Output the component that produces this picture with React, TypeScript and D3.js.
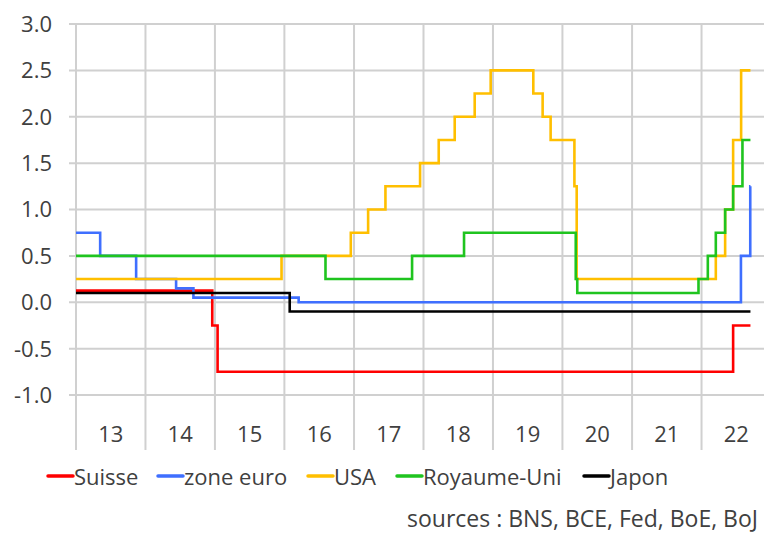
import React from "react";
import * as d3 from "d3";

const W = 764;
const H = 533;

// Step series: [date of change, rate]
const endDate = "2022-09-15";
const suisse: [string, number][] = [
  ["2013-01-01", 0.125], ["2014-12-18", -0.25], ["2015-01-15", -0.75], ["2022-06-16", -0.25],
];
const zoneEuro: [string, number][] = [
  ["2013-01-01", 0.75], ["2013-05-08", 0.5], ["2013-11-13", 0.25], ["2014-06-11", 0.15],
  ["2014-09-10", 0.05], ["2016-03-16", 0.0], ["2022-07-27", 0.5], ["2022-09-14", 1.25],
];
const usa: [string, number][] = [
  ["2013-01-01", 0.25], ["2015-12-17", 0.5], ["2016-12-15", 0.75], ["2017-03-16", 1.0],
  ["2017-06-15", 1.25], ["2017-12-14", 1.5], ["2018-03-22", 1.75], ["2018-06-14", 2.0],
  ["2018-09-27", 2.25], ["2018-12-20", 2.5], ["2019-08-01", 2.25], ["2019-09-19", 2.0],
  ["2019-10-31", 1.75], ["2020-03-04", 1.25], ["2020-03-16", 0.25], ["2022-03-17", 0.5],
  ["2022-05-05", 1.0], ["2022-06-16", 1.75], ["2022-07-28", 2.5],
];
const royaumeUni: [string, number][] = [
  ["2013-01-01", 0.5], ["2016-08-04", 0.25], ["2017-11-02", 0.5], ["2018-08-02", 0.75],
  ["2020-03-11", 0.25], ["2020-03-19", 0.1], ["2021-12-16", 0.25], ["2022-02-03", 0.5],
  ["2022-03-17", 0.75], ["2022-05-05", 1.0], ["2022-06-16", 1.25], ["2022-08-04", 1.75],
];
const japon: [string, number][] = [
  ["2013-01-01", 0.1], ["2016-01-29", -0.1],
];

const seriesNames = ["Suisse", "zone euro", "USA", "Royaume-Uni", "Japon"];
const seriesColors = ["#FF0000", "#3F6FFF", "#FFBF00", "#1FC41F", "#000000"];
const seriesData = [suisse, zoneEuro, usa, royaumeUni, japon];

const yTicks = [-1.0, -0.5, 0.0, 0.5, 1.0, 1.5, 2.0, 2.5, 3.0];
const yearLabels = ["13", "14", "15", "16", "17", "18", "19", "20", "21", "22"];
const sourceText = "sources : BNS, BCE, Fed, BoE, BoJ";

const parse = d3.timeParse("%Y-%m-%d");
const font = "'Open Sans', sans-serif";
const textColor = "#404040";
const gridColor = "#D0D0D0";

export default function App() {
  const left = 76, right = 771, top = 24, bottom = 395, axisBottom = 450;
  const x = d3.scaleTime().domain([new Date(2013, 0, 1), new Date(2023, 0, 1)]).range([left, right]);
  const y = d3.scaleLinear().domain([-1, 3]).range([bottom, top]);
  const years = yearLabels.map((_, i) => new Date(2013 + i, 0, 1));
  const bounds = [...years, new Date(2023, 0, 1)];
  const line = d3.line<[Date, number]>().x(d => x(d[0])).y(d => y(d[1])).curve(d3.curveStepAfter);

  const pathFor = (s: [string, number][]) => {
    const pts: [Date, number][] = s.map(([d, v]) => [parse(d) as Date, v]);
    const last = pts[pts.length - 1];
    const end = parse(endDate) as Date;
    if (end > last[0]) pts.push([end, last[1]]);
    return line(pts) || "";
  };

  const legendX = [48, 158, 308, 397, 584];

  return (
    <div style={{ position: "absolute", left: 0, top: 0 }}>
      <svg width={W} height={H} style={{ display: "block", background: "#fff" }}>
        {yTicks.map(t => (
          <line key={"h" + t} x1={69} x2={right} y1={y(t)} y2={y(t)} stroke={gridColor} strokeWidth={2} />
        ))}
        {bounds.map((d, i) => (
          <line key={"v" + i} x1={x(d)} x2={x(d)} y1={top} y2={axisBottom} stroke={gridColor} strokeWidth={2} />
        ))}
        {yTicks.map(t => (
          <text key={"yl" + t} x={52} y={y(t)} dy="0.36em" textAnchor="end" fontFamily={font} fontSize={22} fill={textColor}>
            {t.toFixed(1)}
          </text>
        ))}
        {yearLabels.map((lab, i) => (
          <text key={"xl" + lab} x={(x(bounds[i]) + x(bounds[i + 1])) / 2} y={442} textAnchor="middle" fontFamily={font} fontSize={22} fill={textColor}>
            {lab}
          </text>
        ))}
        {seriesData.map((s, i) => (
          <path key={"s" + i} d={pathFor(s)} fill="none" stroke={seriesColors[i]} strokeWidth={2.6} strokeLinejoin="miter" />
        ))}
        {seriesNames.map((n, i) => (
          <g key={"lg" + n}>
            <line x1={legendX[i]} x2={legendX[i] + 25} y1={476} y2={476} stroke={seriesColors[i]} strokeWidth={3.5} strokeLinecap="round" />
            <text x={legendX[i] + 26} y={485} fontFamily={font} fontSize={22} fill={textColor}>{n}</text>
          </g>
        ))}
        <text x={758} y={527} textAnchor="end" fontFamily={font} fontSize={23} fill={textColor}>{sourceText}</text>
      </svg>
    </div>
  );
}
